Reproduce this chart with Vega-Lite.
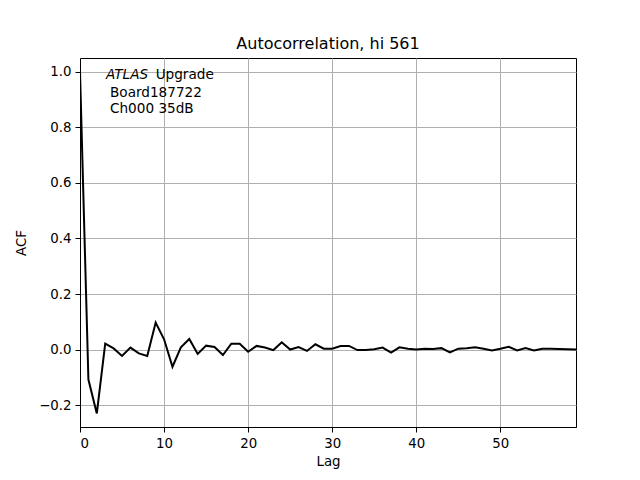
{
  "$schema": "https://vega.github.io/schema/vega-lite/v6.json",
  "width": 496,
  "height": 369,
  "autosize": "none",
  "padding": {"left": 80, "top": 58, "right": 64, "bottom": 53},
  "background": "white",
  "title": {"text": "Autocorrelation, hi 561", "font": "DejaVu Sans", "fontSize": 16, "fontWeight": "normal", "color": "black", "offset": 6},
  "config": {
    "view": {"stroke": "black", "strokeWidth": 1},
    "axis": {
      "labelFont": "DejaVu Sans", "labelFontSize": 13.33, "labelColor": "black",
      "titleFont": "DejaVu Sans", "titleFontSize": 13.33, "titleFontWeight": "normal", "titleColor": "black",
      "tickColor": "black", "tickSize": 5, "tickWidth": 1, "labelPadding": 4,
      "domainColor": "black", "gridColor": "#b0b0b0", "gridWidth": 1, "gridOpacity": 1
    }
  },
  "layer": [
    {
      "data": {"values": [
        {"lag": 0, "acf": 1.0}, {"lag": 1, "acf": -0.108}, {"lag": 2, "acf": -0.23}, {"lag": 3, "acf": 0.021},
        {"lag": 4, "acf": 0.004}, {"lag": 5, "acf": -0.023}, {"lag": 6, "acf": 0.007}, {"lag": 7, "acf": -0.014},
        {"lag": 8, "acf": -0.023}, {"lag": 9, "acf": 0.097}, {"lag": 10, "acf": 0.037}, {"lag": 11, "acf": -0.062},
        {"lag": 12, "acf": 0.008}, {"lag": 13, "acf": 0.038}, {"lag": 14, "acf": -0.016}, {"lag": 15, "acf": 0.014},
        {"lag": 16, "acf": 0.009}, {"lag": 17, "acf": -0.02}, {"lag": 18, "acf": 0.021}, {"lag": 19, "acf": 0.021},
        {"lag": 20, "acf": -0.008}, {"lag": 21, "acf": 0.013}, {"lag": 22, "acf": 0.007}, {"lag": 23, "acf": -0.002},
        {"lag": 24, "acf": 0.026}, {"lag": 25, "acf": 0.0}, {"lag": 26, "acf": 0.009}, {"lag": 27, "acf": -0.005},
        {"lag": 28, "acf": 0.019}, {"lag": 29, "acf": 0.003}, {"lag": 30, "acf": 0.003}, {"lag": 31, "acf": 0.013},
        {"lag": 32, "acf": 0.013}, {"lag": 33, "acf": -0.002}, {"lag": 34, "acf": -0.002}, {"lag": 35, "acf": 0.001},
        {"lag": 36, "acf": 0.007}, {"lag": 37, "acf": -0.011}, {"lag": 38, "acf": 0.008}, {"lag": 39, "acf": 0.003},
        {"lag": 40, "acf": 0.0}, {"lag": 41, "acf": 0.003}, {"lag": 42, "acf": 0.002}, {"lag": 43, "acf": 0.005},
        {"lag": 44, "acf": -0.01}, {"lag": 45, "acf": 0.003}, {"lag": 46, "acf": 0.005}, {"lag": 47, "acf": 0.008},
        {"lag": 48, "acf": 0.003}, {"lag": 49, "acf": -0.003}, {"lag": 50, "acf": 0.003}, {"lag": 51, "acf": 0.01},
        {"lag": 52, "acf": -0.003}, {"lag": 53, "acf": 0.005}, {"lag": 54, "acf": -0.003}, {"lag": 55, "acf": 0.003},
        {"lag": 56, "acf": 0.003}, {"lag": 57, "acf": 0.002}, {"lag": 58, "acf": 0.001}, {"lag": 59, "acf": 0.0}
      ]},
      "mark": {"type": "line", "color": "black", "strokeWidth": 2, "clip": true},
      "encoding": {
        "x": {"field": "lag", "type": "quantitative", "title": "Lag",
              "scale": {"domain": [0, 59], "nice": false, "zero": false},
              "axis": {"values": [0, 10, 20, 30, 40, 50], "format": "d", "grid": true, "titlePadding": 5}},
        "y": {"field": "acf", "type": "quantitative", "title": "ACF",
              "scale": {"domain": [-0.279, 1.05], "nice": false, "zero": false},
              "axis": {"values": [-0.2, 0.0, 0.2, 0.4, 0.6, 0.8, 1.0], "format": ".1f", "grid": true, "titlePadding": 10}}
      }
    },
    {
      "data": {"values": [{"label": "ATLAS"}]},
      "mark": {"type": "text", "font": "DejaVu Sans", "fontSize": 13.6, "fontStyle": "italic", "align": "left", "baseline": "alphabetic", "color": "black"},
      "encoding": {"text": {"field": "label"}, "x": {"datum": 3.09}, "y": {"datum": 0.974}}
    },
    {
      "data": {"values": [{"label": "Upgrade"}]},
      "mark": {"type": "text", "font": "DejaVu Sans", "fontSize": 13.6, "align": "left", "baseline": "alphabetic", "color": "black"},
      "encoding": {"text": {"field": "label"}, "x": {"datum": 9.0}, "y": {"datum": 0.974}}
    },
    {
      "data": {"values": [{"label": "Board187722"}]},
      "mark": {"type": "text", "font": "DejaVu Sans", "fontSize": 13.6, "align": "left", "baseline": "alphabetic", "color": "black"},
      "encoding": {"text": {"field": "label"}, "x": {"datum": 3.57}, "y": {"datum": 0.911}}
    },
    {
      "data": {"values": [{"label": "Ch000 35dB"}]},
      "mark": {"type": "text", "font": "DejaVu Sans", "fontSize": 13.6, "align": "left", "baseline": "alphabetic", "color": "black"},
      "encoding": {"text": {"field": "label"}, "x": {"datum": 3.57}, "y": {"datum": 0.853}}
    }
  ]
}
